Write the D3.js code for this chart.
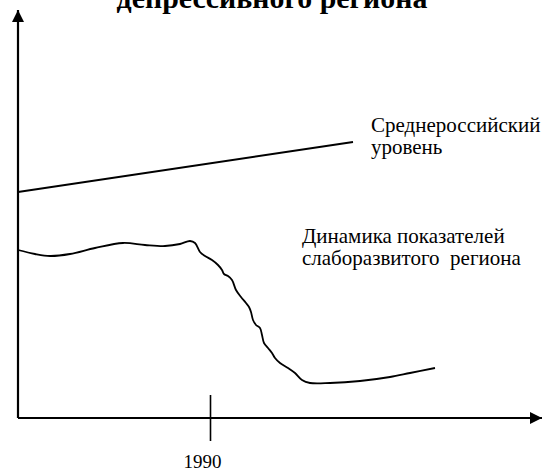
<!DOCTYPE html>
<html><head><meta charset="utf-8">
<script src="https://cdn.jsdelivr.net/npm/d3@7"></script>
<style>
html,body{margin:0;padding:0;background:#fff;}
svg{display:block;}
</style></head>
<body>
<svg id="c" width="542" height="472"></svg>
<script>
// ---- data (schematic units) ----
const titleText = "депрессивного региона";
const avgLabel = ["Среднероссийский", "уровень"];
const regionLabel = ["Динамика показателей", "слаборазвитого  региона"];
const tickValues = [48];
const tickLabels = ["1990"];
const avgT = [0, 83.75];
const avgY = [56.5, 69];
const regT = [0, 4.25, 8, 13, 19.25, 26.25, 31.75, 36.75, 40.5, 43, 44.25, 45.5, 46.75, 48.5, 50, 51, 51.5, 52.5, 53.5, 54.5, 55.75, 57, 57.75, 58.25, 58.75, 59.5, 60.5, 61, 61.5, 62.5, 63.5, 64.25, 65.5, 67.5, 69.25, 71, 73, 78, 85.5, 93, 98, 104.25];
const regY = [42, 41, 40.5, 41, 42.5, 43.75, 43.25, 43, 43.5, 44.25, 43.75, 41.5, 40.5, 39.5, 38.25, 37, 36, 35.5, 34.5, 32, 30.25, 28.75, 27.75, 26.5, 24.5, 23.25, 22.5, 20.75, 18.75, 17.5, 16.25, 15, 13.75, 12.5, 11.25, 9.5, 8.75, 8.75, 9.25, 10.25, 11.25, 12.5];

const FONT = "'Liberation Serif'";
const svg = d3.select("#c");
const x = d3.scaleLinear().domain([0, 131]).range([18, 542]);
const y = d3.scaleLinear().domain([0, 102]).range([418, 10]);

// title (only lower line visible, cut by top edge as in reference)
const tt = svg.append("text").attr("x", 272).attr("y", 8).attr("text-anchor", "middle")
  .style("font-family", FONT).style("font-weight", "bold").style("font-size", "24px").text(titleText);
const tw = tt.node().getComputedTextLength();
tt.style("font-size", (24 * 311 / tw) + "px");

// arrow markers
const defs = svg.append("defs");
defs.append("marker").attr("id", "arr").attr("viewBox", "0 0 12 12").attr("refX", 12).attr("refY", 6)
  .attr("markerWidth", 12).attr("markerHeight", 12).attr("markerUnits", "userSpaceOnUse").attr("orient", "auto")
  .append("path").attr("d", "M0,0L12,6L0,12Z").attr("fill", "#000");

// axes
svg.append("line").attr("x1", x(0)).attr("y1", y(0)).attr("x2", x(0)).attr("y2", y(102))
  .attr("stroke", "#000").attr("stroke-width", 2.2).attr("marker-end", "url(#arr)");
svg.append("line").attr("x1", x(0)).attr("y1", y(0)).attr("x2", x(131)).attr("y2", y(0))
  .attr("stroke", "#000").attr("stroke-width", 2.2).attr("marker-end", "url(#arr)");

const ax = svg.append("g").attr("transform", `translate(0,${y(0)})`)
  .call(d3.axisBottom(x).tickValues(tickValues).tickFormat((d, i) => tickLabels[i]).tickSize(23));
ax.attr("font-family", null).attr("font-size", null);
ax.select(".domain").remove();
ax.selectAll(".tick line").attr("y1", -23).attr("stroke", "#000").attr("stroke-width", 1.6);
ax.selectAll(".tick text").style("font-family", FONT).style("font-size", "19px")
  .attr("fill", "#000").attr("x", -8).attr("y", 50).attr("dy", null);

// lines
const line = d3.line().x(d => x(d[0])).y(d => y(d[1]));
svg.append("path").datum(avgT.map((t, i) => [t, avgY[i]])).attr("d", line)
  .attr("fill", "none").attr("stroke", "#000").attr("stroke-width", 2);
svg.append("path").datum(regT.map((t, i) => [t, regY[i]])).attr("d", line.curve(d3.curveCatmullRom))
  .attr("fill", "none").attr("stroke", "#000").attr("stroke-width", 1.8);

// labels
function lbl(lines, x0, y0) {
  const t = svg.append("text").attr("x", x0).attr("y", y0)
    .style("font-family", FONT).style("font-size", "21px");
  lines.forEach((s, i) => t.append("tspan").attr("x", x0).attr("dy", i ? 22 : 0)
    .style("white-space", "pre").text(s));
}
lbl(avgLabel, 371, 132);
lbl(regionLabel, 302, 243);
</script>
</body></html>
